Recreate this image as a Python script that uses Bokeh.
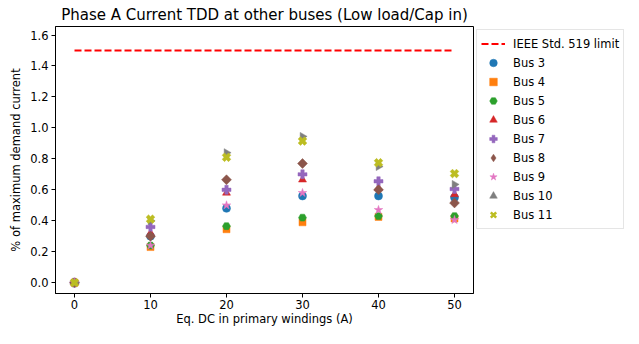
import math
from bokeh.plotting import figure
from bokeh.models import Range1d, FixedTicker, PrintfTickFormatter, Legend, LegendItem
from bokeh.embed import file_html
from bokeh.resources import INLINE

x_dc = [0, 10, 20, 30, 40, 50]
limit_x = [0, 50]
limit_y = [1.5, 1.5]

bus3 = [0.0, 0.30, 0.48, 0.56, 0.56, 0.55]
bus4 = [0.0, 0.23, 0.345, 0.39, 0.425, 0.415]
bus5 = [0.0, 0.24, 0.365, 0.42, 0.43, 0.43]
bus6 = [0.0, 0.32, 0.58, 0.665, 0.61, 0.57]
bus7 = [0.0, 0.36, 0.60, 0.70, 0.655, 0.605]
bus8 = [0.0, 0.30, 0.665, 0.77, 0.60, 0.515]
bus9 = [0.0, 0.24, 0.50, 0.58, 0.47, 0.405]
bus10 = [0.0, 0.40, 0.84, 0.945, 0.75, 0.635]
bus11 = [0.0, 0.41, 0.81, 0.915, 0.775, 0.705]

x_ticks = [0, 10, 20, 30, 40, 50]
y_ticks = [0.0, 0.2, 0.4, 0.6, 0.8, 1.0, 1.2, 1.4, 1.6]

FONT = "DejaVu Sans"
TXT = "11.5px"

p = figure(frame_width=418, height=328, output_backend="svg", toolbar_location=None,
           x_range=Range1d(-2.5, 52.5), y_range=Range1d(-0.07, 1.655),
           title="Phase A Current TDD at other buses (Low load/Cap in)",
           min_border_left=55, min_border_right=0, min_border_top=26,
           min_border_bottom=29)

p.title.align = "center"
p.title.text_font = FONT
p.title.text_font_size = "15px"
p.title.text_font_style = "normal"
p.title.text_color = "black"
p.title.standoff = 5

p.xgrid.visible = False
p.ygrid.visible = False
p.outline_line_color = "black"
p.outline_line_width = 1
p.background_fill_color = "white"

for ax in (p.xaxis[0], p.yaxis[0]):
    ax.axis_line_color = "black"
    ax.major_tick_line_color = "black"
    ax.major_tick_out = 4
    ax.major_tick_in = 0
    ax.minor_tick_line_color = None
    ax.major_label_text_font = FONT
    ax.major_label_text_font_size = TXT
    ax.major_label_text_color = "black"
    ax.axis_label_text_font = FONT
    ax.axis_label_text_font_size = TXT
    ax.axis_label_text_font_style = "normal"
    ax.axis_label_text_color = "black"

p.xaxis.major_label_standoff = 2
p.yaxis.major_label_standoff = 3
p.xaxis.ticker = FixedTicker(ticks=x_ticks)
p.yaxis.ticker = FixedTicker(ticks=y_ticks)
p.yaxis.formatter = PrintfTickFormatter(format="%.1f")
p.xaxis.axis_label = "Eq. DC in primary windings (A)"
p.yaxis.axis_label = "% of maximum demand current"
p.xaxis.axis_label_standoff = 0
p.yaxis.axis_label_standoff = 4

items = []
r = p.line(limit_x, limit_y, line_color="red", line_width=1.8, line_dash="7 3")
items.append(LegendItem(label="IEEE Std. 519 limit", renderers=[r]))

# label, values, marker, colour, angle, size, legend marker, legend line width
series = [
    ("Bus 3", bus3, "circle", "#1f77b4", 0.0, 8, None, 0.5),
    ("Bus 4", bus4, "square", "#ff7f0e", 0.0, 7, None, 0.5),
    ("Bus 5", bus5, "hex", "#2ca02c", 0.0, 8, None, 0.5),
    ("Bus 6", bus6, "triangle", "#d62728", 0.0, 8, None, 0.5),
    ("Bus 7", bus7, "plus", "#9467bd", 0.0, 9, None, 0.5),
    ("Bus 8", bus8, "square", "#8c564b", math.pi / 4, 7, "diamond", 0.5),
    ("Bus 9", bus9, "star", "#e377c2", 0.0, 9, None, 0.5),
    ("Bus 10", bus10, "triangle", "#7f7f7f", -math.pi / 2, 8, None, 0.5),
    ("Bus 11", bus11, "plus", "#bcbd22", math.pi / 4, 9, "x", 2.5),
]
for label, ys, marker, color, ang, sz, lmark, llw in series:
    r = p.scatter(x_dc, ys, marker=marker, size=sz, angle=ang, fill_color=color,
                  line_color=color, line_width=0.5)
    if lmark is None:
        items.append(LegendItem(label=label, renderers=[r]))
    else:
        proxy = p.scatter([-100], [-100], marker=lmark, size=sz, fill_color=color,
                          line_color=color, line_width=llw)
        items.append(LegendItem(label=label, renderers=[proxy]))

lg = Legend(items=items, location="top_left")
lg.label_text_font = FONT
lg.label_text_font_size = TXT
lg.label_text_color = "black"
lg.glyph_height = 19
lg.label_height = 19
lg.glyph_width = 24
lg.spacing = 0
lg.padding = 4
lg.margin = 3
lg.label_standoff = 8
lg.border_line_color = "#cccccc"
lg.border_line_width = 1
lg.background_fill_alpha = 1.0
p.add_layout(lg, "right")

open("out.html", "w").write(file_html(p, INLINE))
